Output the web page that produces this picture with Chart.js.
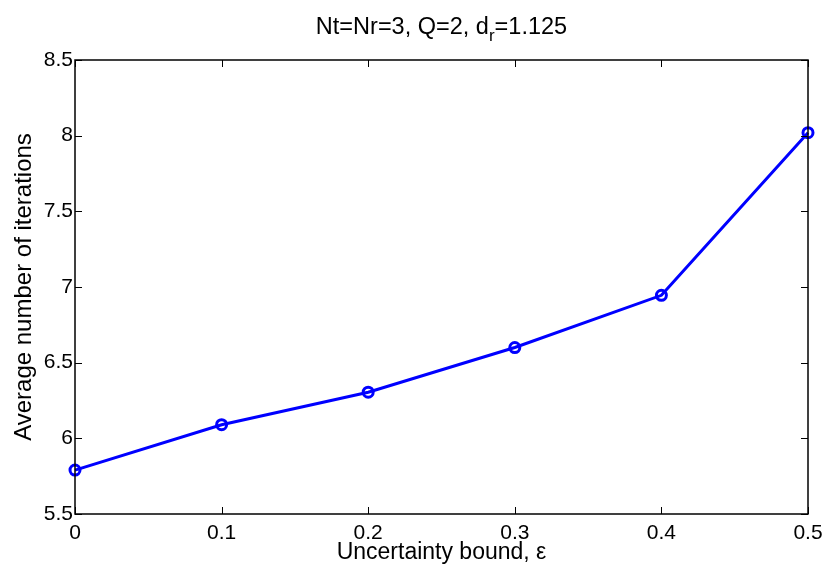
<!DOCTYPE html>
<html>
<head>
<meta charset="utf-8">
<script src="https://cdn.jsdelivr.net/npm/chart.js@4"></script>
<style>
  html, body { margin: 0; padding: 0; background: #fff; }
  #wrap { width: 827px; height: 570px; }
</style>
</head>
<body>
<div id="wrap"><canvas id="chart" width="827" height="570"></canvas></div>
<script>
// данные
const epsilon = [0, 0.1, 0.2, 0.3, 0.4, 0.5];
const iterations = [5.79, 6.09, 6.305, 6.6, 6.945, 8.02];
const yTicks = [5.5, 6, 6.5, 7, 7.5, 8, 8.5];
const xTicks = [0, 0.1, 0.2, 0.3, 0.4, 0.5];

const FONT = 'Liberation Sans, Arial, sans-serif';

// рамка, внутренние штрихи и заголовок с нижним индексом
const matlabFrame = {
  id: 'matlabFrame',
  afterDraw(chart) {
    const ctx = chart.ctx;
    const a = chart.chartArea;
    const xs = chart.scales.x;
    const ys = chart.scales.y;
    ctx.save();
    ctx.strokeStyle = '#000';
    ctx.lineWidth = 1.5;
    ctx.strokeRect(a.left, a.top, a.right - a.left, a.bottom - a.top);
    ctx.lineWidth = 1;
    ctx.beginPath();
    xTicks.forEach(v => {
      const px = Math.round(xs.getPixelForValue(v)) + 0.5;
      ctx.moveTo(px, a.bottom); ctx.lineTo(px, a.bottom - 7);
      ctx.moveTo(px, a.top); ctx.lineTo(px, a.top + 7);
    });
    yTicks.forEach(v => {
      const py = Math.round(ys.getPixelForValue(v)) + 0.5;
      ctx.moveTo(a.left, py); ctx.lineTo(a.left + 7, py);
      ctx.moveTo(a.right, py); ctx.lineTo(a.right - 7, py);
    });
    ctx.stroke();

    // заголовок
    const main = 'Nt=Nr=3, Q=2, d';
    const sub = 'r';
    const tail = '=1.125';
    ctx.fillStyle = '#000';
    ctx.textBaseline = 'alphabetic';
    ctx.font = '23.5px ' + FONT;
    const w1 = ctx.measureText(main).width;
    const w3 = ctx.measureText(tail).width;
    ctx.font = '17px ' + FONT;
    const w2 = ctx.measureText(sub).width;
    const total = w1 + w2 + w3;
    const cx = (a.left + a.right) / 2;
    let x = cx - total / 2;
    const base = 34;
    ctx.textAlign = 'left';
    ctx.font = '23.5px ' + FONT;
    ctx.fillText(main, x, base);
    x += w1;
    ctx.font = '17px ' + FONT;
    ctx.fillText(sub, x, base + 7);
    x += w2;
    ctx.font = '23.5px ' + FONT;
    ctx.fillText(tail, x, base);
    ctx.restore();
  }
};

const ctx = document.getElementById('chart').getContext('2d');
const chart = new Chart(ctx, {
  type: 'line',
  data: {
    datasets: [
      {
        label: 'iterations',
        data: epsilon.map((e, i) => ({ x: e, y: iterations[i] })),
        borderColor: '#0000ff',
        backgroundColor: '#ffffff',
        borderWidth: 3,
        pointRadius: 5,
        pointBorderWidth: 3,
        pointBackgroundColor: 'rgba(255,255,255,0)',
        pointBorderColor: '#0000ff',
        tension: 0,
        clip: false,
      },
    ],
  },
  options: {
    responsive: false,
    animation: false,
    layout: { padding: { left: 0, right: 19, top: 60, bottom: 0 } },
    plugins: {
      legend: { display: false },
      tooltip: { enabled: false },
      title: { display: false },
    },
    scales: {
      x: {
        type: 'linear',
        min: 0,
        max: 0.5,
        afterBuildTicks(scale) { scale.ticks = xTicks.map(v => ({ value: v })); },
        afterFit(scale) {
          scale.height = 56;
          scale.paddingLeft = 0;
          scale.paddingRight = 0;
        },
        grid: { display: false, drawTicks: false },
        border: { display: false },
        ticks: {
          color: '#000',
          padding: 7,
          maxRotation: 0,
          font: { family: FONT, size: 21 },
          callback: v => String(Math.round(v * 10) / 10),
        },
        title: {
          display: true,
          text: 'Uncertainty bound, ε',
          color: '#000',
          font: { family: FONT, size: 23 },
          padding: { top: 0, bottom: 4 },
        },
      },
      y: {
        min: 5.5,
        max: 8.5,
        afterBuildTicks(scale) { scale.ticks = yTicks.map(v => ({ value: v })); },
        afterFit(scale) {
          scale.width = 75;
          scale.paddingTop = 0;
          scale.paddingBottom = 0;
        },
        grid: { display: false, drawTicks: false },
        border: { display: false },
        ticks: {
          color: '#000',
          padding: 2,
          font: { family: FONT, size: 21 },
          callback: v => String(v),
        },
        title: {
          display: true,
          text: 'Average number of iterations',
          color: '#000',
          font: { family: FONT, size: 24 },
          padding: { top: 10, bottom: 0 },
        },
      },
    },
  },
  plugins: [matlabFrame],
});
</script>
</body>
</html>
